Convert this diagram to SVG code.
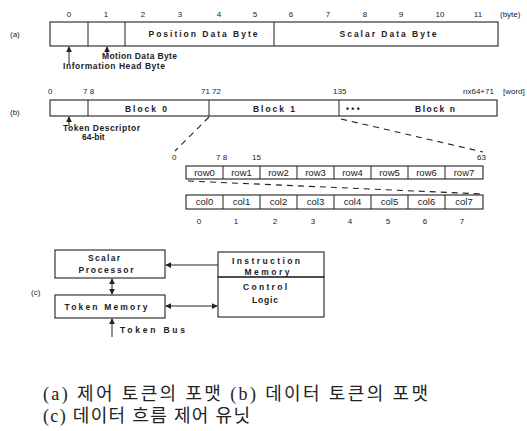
<svg xmlns="http://www.w3.org/2000/svg" width="527" height="431" viewBox="0 0 527 431">
<defs>
<style>
.bx{fill:none;stroke:#222;stroke-width:1.1}
.ln{fill:none;stroke:#222;stroke-width:1}
.ds{fill:none;stroke:#222;stroke-width:1.1;stroke-dasharray:6,5}
.t{font-family:"Liberation Sans",Arial,sans-serif;font-size:8.5px;font-weight:bold;fill:#222}
.n{font-family:"Liberation Sans",Arial,sans-serif;font-size:8px;fill:#222}
.c{font-family:"Liberation Sans",Arial,sans-serif;font-size:9.5px;fill:#222}
.lb{font-family:"Liberation Sans",Arial,sans-serif;font-size:8px;fill:#222}
.cap{font-family:"Liberation Serif","Noto Sans CJK KR",serif;font-size:18px;fill:#222}
</style>
<marker id="ah" viewBox="0 0 8 8" refX="7" refY="4" markerWidth="6" markerHeight="6" orient="auto-start-reverse" markerUnits="userSpaceOnUse">
<path d="M0,0 L8,4 L0,8 z" fill="#222"/>
</marker>
</defs>
<rect width="527" height="431" fill="#fff"/>

<!-- (a) control token format -->
<g id="a-format">
<text class="lb" x="10" y="37">(a)</text>
<g class="n" text-anchor="middle">
<text x="69" y="17">0</text><text x="106" y="17">1</text><text x="143" y="17">2</text><text x="180" y="17">3</text>
<text x="219" y="17">4</text><text x="255" y="17">5</text><text x="291" y="17">6</text><text x="328" y="17">7</text>
<text x="365" y="17">8</text><text x="401" y="17">9</text><text x="440" y="17">10</text><text x="478" y="17">11</text>
</g>
<text class="n" x="500" y="17">(byte)</text>
<rect class="bx" x="50" y="22" width="448" height="24"/>
<line class="ln" x1="88" y1="22" x2="88" y2="46"/>
<line class="ln" x1="125" y1="22" x2="125" y2="46"/>
<line class="ln" x1="274" y1="22" x2="274" y2="46"/>
<text class="t" x="203" y="37" text-anchor="middle" textLength="109" lengthAdjust="spacing">Position Data Byte</text>
<text class="t" x="388" y="37" text-anchor="middle" textLength="97" lengthAdjust="spacing">Scalar Data Byte</text>
</g>
<g id="a-labels">
<text class="t" x="102" y="59" font-size="7" textLength="75" lengthAdjust="spacing">Motion Data Byte</text>
<text class="t" x="63" y="69" font-size="7" textLength="102" lengthAdjust="spacing">Information Head Byte</text>
</g>

<!-- (b) data token format -->
<g id="b-format">
<text class="lb" x="10" y="115">(b)</text>
<g class="n" font-size="7">
<text x="48" y="94">0</text><text x="83" y="94">7 8</text><text x="201" y="94">71 72</text>
<text x="333" y="94">135</text><text x="463" y="94">nx64+71</text><text x="503" y="94">[word]</text>
</g>
<rect class="bx" x="50" y="100" width="447" height="16"/>
<line class="ln" x1="88" y1="100" x2="88" y2="116"/>
<line class="ln" x1="209" y1="100" x2="209" y2="116"/>
<line class="ln" x1="339" y1="100" x2="339" y2="116"/>
<text class="t" x="146" y="112" text-anchor="middle" textLength="42" lengthAdjust="spacing">Block 0</text>
<text class="t" x="274" y="112" text-anchor="middle" textLength="42" lengthAdjust="spacing">Block 1</text>
<text class="t" x="346" y="112">• • •</text>
<text class="t" x="435" y="112" text-anchor="middle" textLength="40" lengthAdjust="spacing">Block n</text>
</g>
<g id="b-labels">
<text class="t" x="63" y="131" font-size="6.5" textLength="77" lengthAdjust="spacing">Token Descriptor</text>
<text class="t" x="82" y="140" font-size="6.5">64-bit</text>
</g>

<g id="rows">
<g class="n" font-size="7">
<text x="172" y="160">0</text><text x="216" y="160">7 8</text><text x="252" y="160">15</text><text x="477" y="160">63</text>
</g>
<rect class="bx" x="186" y="166" width="297" height="13"/>
<g class="ln">
<line x1="223" y1="166" x2="223" y2="179"/><line x1="260" y1="166" x2="260" y2="179"/>
<line x1="297" y1="166" x2="297" y2="179"/><line x1="334" y1="166" x2="334" y2="179"/>
<line x1="371" y1="166" x2="371" y2="179"/><line x1="408" y1="166" x2="408" y2="179"/>
<line x1="445" y1="166" x2="445" y2="179"/>
</g>
<g class="c" text-anchor="middle">
<text x="204.5" y="176">row0</text><text x="241.5" y="176">row1</text><text x="278.5" y="176">row2</text>
<text x="315.5" y="176">row3</text><text x="352.5" y="176">row4</text><text x="389.5" y="176">row5</text>
<text x="426.5" y="176">row6</text><text x="464" y="176">row7</text>
</g>
</g>

<g id="cols">
<rect class="bx" x="186" y="195" width="297" height="14"/>
<g class="ln">
<line x1="223" y1="195" x2="223" y2="209"/><line x1="260" y1="195" x2="260" y2="209"/>
<line x1="297" y1="195" x2="297" y2="209"/><line x1="334" y1="195" x2="334" y2="209"/>
<line x1="371" y1="195" x2="371" y2="209"/><line x1="408" y1="195" x2="408" y2="209"/>
<line x1="445" y1="195" x2="445" y2="209"/>
</g>
<g class="c" text-anchor="middle">
<text x="204.5" y="205">col0</text><text x="241.5" y="205">col1</text><text x="278.5" y="205">col2</text>
<text x="315.5" y="205">col3</text><text x="352.5" y="205">col4</text><text x="389.5" y="205">col5</text>
<text x="426.5" y="205">col6</text><text x="464" y="205">col7</text>
</g>
<g class="n" font-size="7" text-anchor="middle">
<text x="199" y="224">0</text><text x="236" y="224">1</text><text x="275" y="224">2</text><text x="313" y="224">3</text>
<text x="350" y="224">4</text><text x="388" y="224">5</text><text x="425" y="224">6</text><text x="462" y="224">7</text>
</g>
</g>

<!-- (c) data flow control unit -->
<text class="lb" x="31" y="295">(c)</text>
<g id="scalar-processor">
<rect class="bx" x="55" y="250" width="110" height="28"/>
<text class="t" x="104" y="261" text-anchor="middle" textLength="32" lengthAdjust="spacing">Scalar</text>
<text class="t" x="106" y="273" text-anchor="middle" textLength="55" lengthAdjust="spacing">Processor</text>
</g>
<g id="token-memory">
<rect class="bx" x="55" y="295" width="110" height="23"/>
<text class="t" x="106" y="310" text-anchor="middle" textLength="83" lengthAdjust="spacing">Token Memory</text>
</g>
<g id="instruction-memory">
<rect class="bx" x="218" y="252" width="106" height="25"/>
<text class="t" x="266" y="264" text-anchor="middle" textLength="68" lengthAdjust="spacing">Instruction</text>
<text class="t" x="267" y="275" text-anchor="middle" textLength="45" lengthAdjust="spacing">Memory</text>
</g>
<g id="control-logic">
<rect class="bx" x="218" y="277" width="106" height="40"/>
<text class="t" x="265" y="290" text-anchor="middle" textLength="44" lengthAdjust="spacing">Control</text>
<text class="t" x="265" y="303" text-anchor="middle" textLength="26" lengthAdjust="spacing">Logic</text>
</g>
<g id="token-bus-label">
<text class="t" x="120" y="333" textLength="65" lengthAdjust="spacing">Token Bus</text>
</g>

<g id="connectors">
<line class="ln" x1="69" y1="64" x2="69" y2="47" marker-end="url(#ah)"/>
<line class="ln" x1="107" y1="54" x2="107" y2="47" marker-end="url(#ah)"/>
<line class="ln" x1="69" y1="126" x2="69" y2="117" marker-end="url(#ah)"/>
<line class="ds" x1="209" y1="117" x2="175" y2="151"/>
<line class="ds" x1="341" y1="119" x2="483" y2="152"/>
<line class="ds" x1="188" y1="181" x2="483" y2="194"/>
<line class="ln" x1="218" y1="265" x2="166" y2="265" marker-end="url(#ah)"/>
<line class="ln" x1="112" y1="279" x2="112" y2="294" marker-start="url(#ah)" marker-end="url(#ah)"/>
<line class="ln" x1="166" y1="306" x2="217" y2="306" marker-start="url(#ah)" marker-end="url(#ah)"/>
<line class="ln" x1="112" y1="337" x2="112" y2="319" marker-end="url(#ah)"/>
</g>

<g id="caption">
<text class="cap" x="43" y="400" textLength="385" lengthAdjust="spacing">(a) 제어 토큰의 포맷 (b) 데이터 토큰의 포맷</text>
<text class="cap" x="43" y="422" textLength="207" lengthAdjust="spacing">(c) 데이터 흐름 제어 유닛</text>
</g>
</svg>
